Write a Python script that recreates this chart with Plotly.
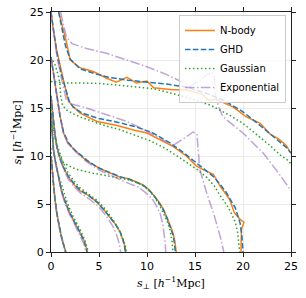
import plotly.graph_objects as go

# ---- traced contour data: each model has a list of contour levels, each a list of (s_perp, s_par) points
nbody_levels = [
    [(0,10.0),(0.12,8.5),(0.25,7.0),(0.4,5.6),(0.6,4.0),(0.8,2.8),(1.05,1.7),(1.3,0.8),(1.55,0)],
    [(0,14.5),(0.1,12.5),(0.25,10.7),(0.5,9.2),(0.76,7.8),(1.1,6.3),(1.45,5.3),(1.9,4.2),(2.5,3.0),(3.0,2.1),(3.5,1.1),(3.8,0)],
    [(0,16.2),(0.2,14.2),(0.4,12.4),(0.6,11.0),(0.95,9.7),(1.4,8.6),(1.8,7.8),(2.5,6.9),(3.0,6.4),(3.9,5.9),(4.8,5.2),(5.6,4.3),(6.2,3.6),(6.7,2.9),(7.2,2.1),(7.5,1.3),(7.7,0.6),(7.8,0)],
    [(0,20.3),(0.2,19.0),(0.4,17.9),(0.76,15.8),(0.95,14.1),(1.3,12.4),(1.8,11.3),(2.5,10.6),(3.2,9.9),(3.7,9.5),(4.4,9.1),(5.1,8.7),(6.2,8.2),(7.2,7.8),(8.2,7.6),(9.0,7.3),(9.6,7.0),(10.2,6.5),(10.7,5.9),(11.2,5.3),(11.7,4.5),(12.1,3.6),(12.4,2.8),(12.7,2.0),(12.9,1.1),(13.05,0)],
    [(0,25),(0.24,23.1),(0.6,21.0),(0.87,19.7),(1.1,18.8),(1.46,17.2),(1.8,15.8),(2.15,15.3),(3.0,14.5),(4.8,13.6),(6.8,13.2),(8.6,12.7),(10.0,12.4),(10.6,12.1),(12.7,11.0),(14.1,10.0),(15.1,9.0),(15.8,8.6),(16.9,8.1),(17.6,6.9),(18.6,5.5),(19.1,4.1),(19.7,3.4),(20.1,3.1),(19.85,2.4),(19.8,1.0),(19.8,0)],
    [(0.8,25),(1.2,23.5),(1.6,21.9),(2.0,20.0),(3.0,19.2),(4.4,18.8),(5.8,18.1),(6.8,17.7),(7.9,18.2),(8.9,17.6),(10.0,17.8),(10.7,17.1),(12.7,16.9),(14.1,16.9),(15.8,16.4),(16.4,15.8),(17.2,15.9),(19.0,15.1),(20.3,14.1),(21.8,13.4),(22.8,12.3),(23.8,11.7),(24.5,11.1),(25,10.3)],
]

ghd_levels = [
    [(0,10.0),(0.12,8.5),(0.25,7.0),(0.4,5.6),(0.6,4.1),(0.8,2.9),(1.05,1.8),(1.3,0.8),(1.55,0)],
    [(0,14.5),(0.1,12.5),(0.25,10.7),(0.5,9.2),(0.76,7.8),(1.1,6.4),(1.45,5.3),(1.9,4.2),(2.5,3.0),(3.0,2.1),(3.45,1.1),(3.75,0)],
    [(0,16.2),(0.2,14.2),(0.4,12.4),(0.6,11.0),(0.95,9.7),(1.4,8.6),(1.8,7.9),(2.5,7.0),(3.0,6.5),(3.9,5.9),(4.8,5.2),(5.6,4.3),(6.2,3.6),(6.7,2.9),(7.2,2.1),(7.5,1.3),(7.65,0.6),(7.75,0)],
    [(0,20.3),(0.2,19.0),(0.4,17.9),(0.76,15.8),(0.95,14.1),(1.3,12.5),(1.8,11.4),(2.5,10.6),(3.2,10.0),(3.7,9.6),(4.4,9.1),(5.1,8.7),(6.2,8.25),(7.2,7.85),(8.2,7.55),(9.0,7.25),(9.6,6.95),(10.2,6.45),(10.7,5.9),(11.2,5.2),(11.7,4.4),(12.1,3.5),(12.4,2.7),(12.7,1.8),(12.85,1.0),(12.95,0)],
    [(0,25),(0.3,22.8),(0.6,20.8),(1.0,18.8),(1.5,17.0),(1.9,15.7),(2.3,15.1),(3.2,14.5),(5.0,13.9),(7.0,13.5),(9.0,13.0),(10.6,12.4),(12.5,11.3),(14.0,10.2),(15.5,9.0),(17.0,7.8),(18.2,6.3),(19.2,4.6),(19.7,3.0),(19.9,1.5),(20.0,0)],
    [(0.8,25),(1.2,23.2),(1.5,21.5),(2.0,20.1),(3.0,19.1),(4.5,18.6),(6.0,18.2),(8.0,17.9),(10.0,17.7),(12.0,17.5),(14.0,17.2),(16.0,16.6),(18.0,15.8),(20.0,14.6),(22.0,13.0),(23.5,11.8),(24.5,10.9),(25,10.3)],
]

gaussian_levels = [
    [(0,10.8),(0.1,9.0),(0.22,7.3),(0.38,5.8),(0.58,4.2),(0.8,2.9),(1.05,1.8),(1.3,0.8),(1.5,0)],
    [(0,13.5),(0.15,11.7),(0.35,10.0),(0.7,8.3),(1.2,6.6),(1.7,5.1),(2.4,3.5),(3.0,2.4),(3.5,1.3),(3.9,0)],
    [(0,14.8),(0.24,12.6),(0.5,11.5),(0.8,10.6),(1.2,9.5),(1.7,8.4),(2.3,7.5),(3.0,6.7),(4.0,6.0),(4.9,5.3),(5.8,4.3),(6.7,3.0),(7.3,1.8),(7.7,0.8),(7.85,0)],
    [(0,16.3),(0.15,14.5),(0.3,12.8),(0.5,11.6),(0.8,10.3),(1.3,9.3),(2.0,8.9),(2.7,8.6),(3.5,8.4),(4.4,8.2),(5.5,8.0),(6.5,7.8),(7.5,7.65),(8.2,7.5),(9.0,7.2),(9.6,6.9),(10.3,6.3),(10.8,5.7),(11.3,4.9),(11.7,4.1),(12.1,3.2),(12.4,2.3),(12.6,1.2),(12.7,0)],
    [(0,20.3),(0.42,19.5),(0.76,18.4),(0.94,17.4),(1.0,16.3),(1.2,15.3),(1.6,14.8),(2.3,14.4),(3.2,14.0),(4.0,13.7),(5.0,13.35),(5.8,13.1),(7.0,12.8),(8.2,12.4),(9.2,12.0),(10.3,11.6),(11.7,10.9),(13.0,10.1),(14.2,9.3),(15.2,8.6),(16.2,7.8),(17.0,6.9),(17.6,5.9),(18.3,4.9),(18.8,4.0),(19.2,3.1),(19.45,2.0),(19.6,0.8),(19.65,0)],
    [(0,17.75),(1.6,17.6),(3.4,17.6),(5.1,17.55),(6.8,17.4),(8.6,17.25),(10.7,17.0),(12.7,16.5),(14.5,16.0),(16.6,15.3),(18.5,14.3),(20.0,13.4),(21.5,12.2),(22.8,11.1),(24.0,10.0),(24.6,9.6),(25,9.2)],
]

exponential_levels = [
    [(0,10.0),(0.12,8.5),(0.25,7.0),(0.42,5.5),(0.62,3.9),(0.82,2.7),(1.05,1.6),(1.3,0.7),(1.5,0)],
    [(0,14.3),(0.1,12.4),(0.25,10.6),(0.5,9.1),(0.76,7.7),(1.1,6.2),(1.45,5.1),(1.9,4.0),(2.45,2.9),(2.95,1.9),(3.4,0.9),(3.65,0)],
    [(0,16.2),(0.2,14.2),(0.4,12.4),(0.6,11.0),(0.95,9.6),(1.4,8.4),(1.8,7.6),(2.5,6.7),(3.0,6.2),(4.0,5.5),(5.0,4.7),(5.8,3.7),(6.5,2.6),(6.9,1.6),(7.15,0.7),(7.25,0)],
    [(0,20.3),(0.2,19.0),(0.4,17.9),(0.76,15.8),(0.95,14.1),(1.3,12.4),(1.8,11.2),(2.5,10.5),(3.7,9.4),(5.1,8.5),(7.2,7.5),(8.2,7.1),(9.0,6.8),(9.6,6.4),(10.2,5.9),(10.7,5.3),(11.1,4.6),(11.4,3.9),(11.65,2.9),(11.8,1.9),(11.9,0.9),(11.95,0)],
    [(0,25),(0.3,22.5),(0.6,20.5),(1.0,18.5),(1.3,17.0),(1.6,15.8),(2.2,15.4),(3.4,15.1),(5.8,14.3),(7.9,13.6),(10.0,12.6),(12.7,11.1),(13.8,11.8),(14.8,12.5),(15.2,12.3),(15.3,10.8),(15.5,8.6),(16.2,6.2),(17.0,3.8),(17.7,1.35),(18.0,0)],
    [(1.0,25),(1.3,23.6),(1.6,22.4),(2.2,21.7),(3.7,21.2),(5.8,20.7),(7.9,20.0),(10.0,19.3),(12.0,18.5),(14.0,17.6),(14.5,17.3),(15.3,17.7),(16.0,18.3),(16.7,18.8),(17.0,18.3),(17.1,16.6),(17.4,15.3),(17.9,14.1),(20.0,12.4),(22.1,10.3),(23.5,8.5),(24.2,7.5),(25,6.4)],
]

model_names = ["N-body", "GHD", "Gaussian", "Exponential"]
tick_values = [0, 5, 10, 15, 20, 25]

styles = {
    "N-body": dict(color="#ff7f0e", dash="solid"),
    "GHD": dict(color="#1f77b4", dash="5.5px,2.4px"),
    "Gaussian": dict(color="#2ca02c", dash="1.5px,2.5px"),
    "Exponential": dict(color="rgba(148,103,189,0.6)", dash="9.6px,2.4px,1.5px,2.4px"),
}

fig = go.Figure()
for name, levels in zip(model_names, [nbody_levels, ghd_levels, gaussian_levels, exponential_levels]):
    st = styles[name]
    for i, lev in enumerate(levels):
        fig.add_trace(go.Scatter(
            x=[p[0] for p in lev], y=[p[1] for p in lev],
            mode="lines", name=name, legendgroup=name, showlegend=(i == 0),
            line=dict(color=st["color"], dash=st["dash"], width=1.5),
            hoverinfo="skip",
        ))

axis_common = dict(
    range=[0, 25], tickvals=tick_values, ticks="outside", ticklen=4, tickwidth=1,
    tickcolor="#222", showline=True, linecolor="#222", linewidth=1, mirror="ticks",
    showgrid=True, gridcolor="#ebebeb", gridwidth=1, zeroline=False, automargin=False,
    tickfont=dict(family="DejaVu Sans", size=11, color="black"),
)

fig.update_layout(
    width=306, height=298,
    margin=dict(l=51, r=15, t=12, b=46, autoexpand=False),
    paper_bgcolor="white", plot_bgcolor="white",
    xaxis=axis_common, yaxis=axis_common,
    legend=dict(
        x=0.979, y=0.9875, xanchor="right", yanchor="top",
        bgcolor="rgba(255,255,255,0.8)", bordercolor="#cccccc", borderwidth=1,
        font=dict(family="DejaVu Sans", size=10, color="black"),
        tracegroupgap=0, itemwidth=30,
    ),
    annotations=[
        dict(text="<i>s</i><sub>⊥</sub> [<i>h</i><sup>−1</sup>Mpc]", xref="paper", yref="paper",
             x=0.5, y=-0.13, xanchor="center", yanchor="middle", showarrow=False,
             font=dict(family="DejaVu Serif", size=11, color="black")),
        dict(text="<i>s</i><sub>∥</sub> [<i>h</i><sup>−1</sup>Mpc]", xref="paper", yref="paper",
             x=-0.14, y=0.5, xanchor="center", yanchor="middle", showarrow=False, textangle=-90,
             font=dict(family="DejaVu Serif", size=11, color="black")),
    ],
)

fig.write_html(
    "out.html",
    config={"displayModeBar": False, "staticPlot": True},
    post_script="document.body.style.margin='0';document.body.style.overflow='hidden';",
)
